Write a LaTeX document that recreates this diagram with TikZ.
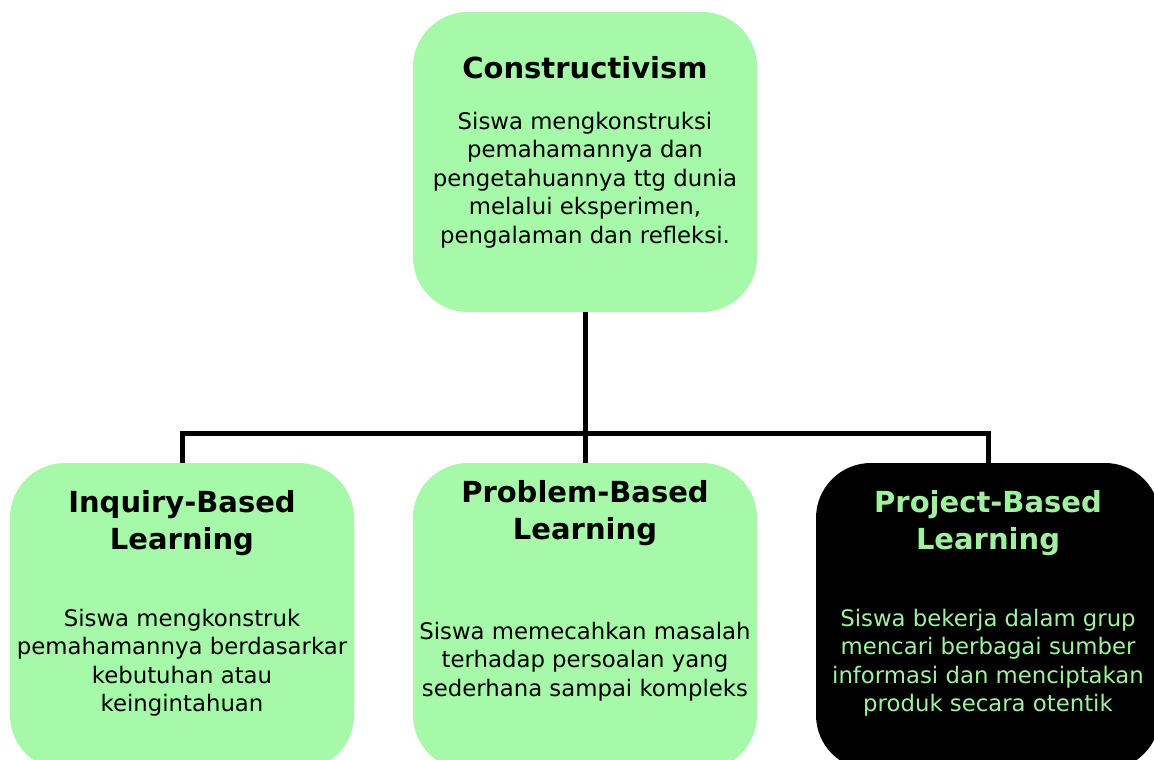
\documentclass[tikz,border=0pt]{standalone}
\usepackage{fontspec}
\setmainfont{DejaVu Sans}
\definecolor{boxgreen}{RGB}{166,249,168}
\definecolor{textgreen}{RGB}{160,240,160}
\begin{document}
\begin{tikzpicture}[x=1bp,y=-1bp,
  box/.style={rounded corners=55bp, inner sep=0pt, minimum width=344bp, fill=boxgreen},
  darkbox/.style={box, fill=black},
  ttl/.style={align=center, inner sep=0pt, font=\bfseries\fontsize{29bp}{37bp}\selectfont},
  body/.style={align=center, inner sep=0pt, font=\fontsize{22.8bp}{28.5bp}\selectfont},
  conn/.style={line width=5bp, draw=black, line join=miter}]
\useasboundingbox (0,0) rectangle (1154,760);
\fill[white] (0,0) rectangle (1154,760);
% boxes
\node[box, minimum height=300bp] (top) at (585,162) {};
\node[box, minimum height=307bp] (inq) at (182,616.5) {};
\node[box, minimum height=307bp] (prb) at (585,616.5) {};
\node[darkbox, minimum height=307bp] (prj) at (988,616.5) {};
\coordinate (bus) at (585,433);
% connectors
\draw[conn] (top.south) -- (bus);
\draw[conn] (inq.north) -- (inq.north |- bus) -- (prj.north |- bus) -- (prj.north);
\draw[conn] (bus) -- (prb.north);
% texts
\node[ttl] (topT) at (585,68) {Constructivism};
\node[body] (topB) at (585,180) {Siswa mengkonstruksi\\pemahamannya dan\\pengetahuannya ttg dunia\\melalui eksperimen,\\pengalaman dan refleksi.};
\node[ttl] (inqT) at (182,523.5) {Inquiry-Based\\Learning};
\node[body] (inqB) at (182,662.5) {Siswa mengkonstruk\\pemahamannya berdasarkar\\kebutuhan atau\\keingintahuan};
\node[ttl] (prbT) at (585,513.5) {Problem-Based\\Learning};
\node[body] (prbB) at (585,661.5) {Siswa memecahkan masalah\\terhadap persoalan yang\\sederhana sampai kompleks};
\node[ttl, text=textgreen] (prjT) at (988,523.5) {Project-Based\\Learning};
\node[body, text=textgreen] (prjB) at (988,662.5) {Siswa bekerja dalam grup\\mencari berbagai sumber\\informasi dan menciptakan\\produk secara otentik};
\end{tikzpicture}
\end{document}
